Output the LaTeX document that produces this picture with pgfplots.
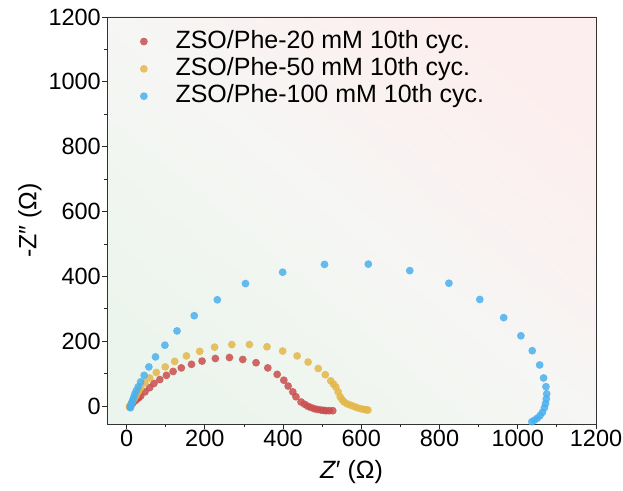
\documentclass[border=0pt]{standalone}
\usepackage{pgfplots}
\pgfplotsset{compat=1.18}
\usepackage{fontspec}
\setmainfont{Liberation Sans}

\definecolor{cred}{RGB}{201,78,78}
\definecolor{cyel}{RGB}{228,183,72}
\definecolor{cblu}{RGB}{74,176,238}
\definecolor{bgtop}{RGB}{252,238,238}
\definecolor{bgmid}{RGB}{246,246,244}
\definecolor{bgbot}{RGB}{236,245,237}

\begin{document}
\begin{tikzpicture}
\begin{axis}[
  scale only axis,
  width=489pt, height=407pt,
  xmin=-50, xmax=1200, ymin=-55, ymax=1200,
  xtick={0,200,...,1200}, ytick={0,200,...,1200},
  minor tick num=1,
  xtick pos=bottom, ytick pos=left,
  tick align=outside,
  major tick length=5pt, minor tick length=3pt,
  tick style={black!85, line width=0.8pt},
  axis line style={black!80, line width=0.9pt},
  ticklabel style={font=\fontsize{23.5}{28}\selectfont, inner sep=1pt},
  /pgf/number format/assume math mode=true,
  /pgf/number format/1000 sep={},
  xlabel={\textit{Z}′ (Ω)},
  ylabel={-Z″ (Ω)},
  every axis x label/.style={at={(axis description cs:0.5,-0.118)}, anchor=center,
    font=\fontsize{25}{28}\selectfont},
  every axis y label/.style={at={(axis description cs:-0.1575,0.5)}, anchor=center, rotate=90,
    font=\fontsize{25}{28}\selectfont},
  axis background/.style={top color=bgtop, bottom color=bgbot, middle color=bgmid, shading angle=-40},
  legend style={at={(0.058,0.977)}, anchor=north west, draw=none, fill=none,
    font=\fontsize{25}{27}\selectfont, row sep=1.3pt,
    nodes={inner sep=1pt, text height=18.5pt, text depth=5.5pt}},
  legend cell align=left,
  legend image code/.code={\path (0cm,0cm) (1.25cm,0cm);
    \draw[mark repeat=2,mark phase=2,#1] plot coordinates {(0cm,0cm) (0.18cm,0cm) (1.25cm,0cm)};},
  every axis plot/.append style={only marks, mark=*, mark size=3.9pt, fill opacity=0.85, draw opacity=0},
]
\addplot[cred, mark options={fill=cred, draw=none}] table {
x y
8 -2
12 4
16 10
21 16
26 21
31 26
36 31
47 44
59 57
70 70
85 82
102 95
119 107
140 118
166 129
193 139
227 147
263 150
297 144
331 134
361 118
385 98
402 80
413 62
425 44
433 29
446 13
455 6
463 0
471 -4
480 -8
488 -10
497 -12
504 -13
510 -14
518 -14
527 -14
};
\addplot[cyel, mark options={fill=cyel, draw=none}] table {
x y
8 0
12 8
16 16
20 24
25 33
30 45
36 57
47 72
59 87
76 104
99 121
123 138
153 155
187 169
225 182
269 190
314 190
359 183
399 170
436 155
464 136
490 116
508 97
522 78
529 68
535 59
541 44
546 29
551 20
556 13
564 7
573 3
582 -1
590 -5
599 -8
607 -10
612 -11
617 -12
};
\addplot[cblu, mark options={fill=cblu, draw=none}] table {
x y
10 -5
11 2
13 8
15 16
18 26
21 37
25 48
30 60
36 75
45 95
57 121
74 152
98 188
129 232
173 279
232 328
304 378
399 413
506 437
618 438
724 418
824 379
903 329
964 273
1008 217
1037 171
1056 127
1066 87
1072 60
1074 38
1073 22
1071 8
1068 -5
1063 -19
1057 -29
1050 -37
1043 -43
1036 -48
};
\legend{ZSO/Phe-20 mM 10th cyc., ZSO/Phe-50 mM 10th cyc., ZSO/Phe-100 mM 10th cyc.}
\end{axis}
\pgfresetboundingbox
\path ([xshift=-107pt,yshift=-66pt]current axis.south west) rectangle ([xshift=27pt,yshift=17pt]current axis.north east);
\end{tikzpicture}
\end{document}
